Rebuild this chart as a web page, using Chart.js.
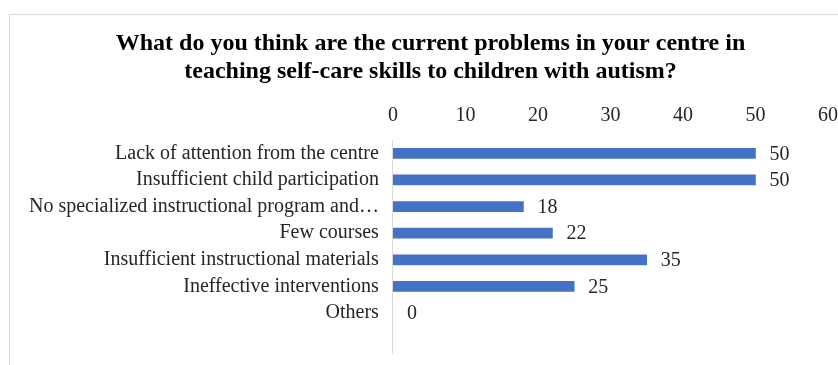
<!DOCTYPE html>
<html>
<head>
<meta charset="utf-8">
<script src="https://cdn.jsdelivr.net/npm/chart.js@4.4.1/dist/chart.umd.min.js"></script>
<style>
  html, body { margin: 0; padding: 0; background: #fff; overflow: hidden; }
  body { width: 838px; height: 365px; position: relative; }
  #frame {
    position: absolute; left: 9px; top: 14px;
    width: 900px; height: 420px;
    border: 1px solid #d9d9d9; box-sizing: border-box;
  }
  #wrap { position: absolute; left: 10px; top: 15px; width: 840px; height: 364px; }
</style>
</head>
<body>
<div id="frame"></div>
<div id="wrap"><canvas id="chart"></canvas></div>
<script>
// Survey responses: current problems in teaching self-care skills
const categories = [
  'Lack of attention from the centre',
  'Insufficient child participation',
  'No specialized instructional program and\u2026',
  'Few courses',
  'Insufficient instructional materials',
  'Ineffective interventions',
  'Others'
];
const responses = [50, 50, 18, 22, 35, 25, 0];
const xTicks = [0, 10, 20, 30, 40, 50, 60];
const titleLines = [
  'What do you think are the current problems in your centre in',
  'teaching self-care skills to children with autism?'
];

const serif = "'Liberation Serif', 'Times New Roman', serif";

// value labels drawn just past the end of each bar
const valueLabels = {
  id: 'valueLabels',
  afterDatasetsDraw(chart) {
    const ctx = chart.ctx;
    const meta = chart.getDatasetMeta(0);
    ctx.save();
    ctx.font = '20px ' + serif;
    ctx.fillStyle = '#262626';
    ctx.textAlign = 'left';
    ctx.textBaseline = 'middle';
    meta.data.forEach((bar, i) => {
      const v = chart.data.datasets[0].data[i];
      if (v === null || v === undefined) return;
      ctx.fillText(String(v), bar.x + 14, bar.y + 1);
    });
    ctx.restore();
  }
};

new Chart(document.getElementById('chart'), {
  type: 'bar',
  data: {
    // one trailing empty slot leaves room below the last bar
    labels: [...categories, ''],
    datasets: [{
      data: [...responses, null],
      backgroundColor: (c) => (c.raw ? '#4472C4' : 'rgba(0,0,0,0)'),
      borderWidth: 0,
      barThickness: 10
    }]
  },
  options: {
    indexAxis: 'y',
    responsive: true,
    maintainAspectRatio: false,
    animation: false,
    layout: { padding: { top: 15, right: 4, bottom: 0, left: 5 } },
    plugins: {
      legend: { display: false },
      tooltip: { enabled: false },
      title: {
        display: true,
        text: titleLines,
        color: '#000',
        font: { family: serif, size: 24, weight: 'bold', lineHeight: 28 / 24 },
        padding: { top: 0, bottom: 6 }
      }
    },
    scales: {
      x: {
        position: 'top',
        min: 0,
        max: 60,
        afterBuildTicks(scale) { scale.ticks = xTicks.map(v => ({ value: v })); },
        grid: { display: false, drawTicks: false },
        border: { display: false },
        ticks: {
          color: '#262626',
          font: { family: serif, size: 20 },
          padding: 12,
          maxRotation: 0
        }
      },
      y: {
        grid: { display: false, drawTicks: false },
        border: { display: true, color: '#d9d9d9', width: 1 },
        ticks: {
          color: '#262626',
          font: { family: serif, size: 20 },
          padding: 14,
          autoSkip: false
        }
      }
    }
  },
  plugins: [valueLabels]
});
</script>
</body>
</html>
